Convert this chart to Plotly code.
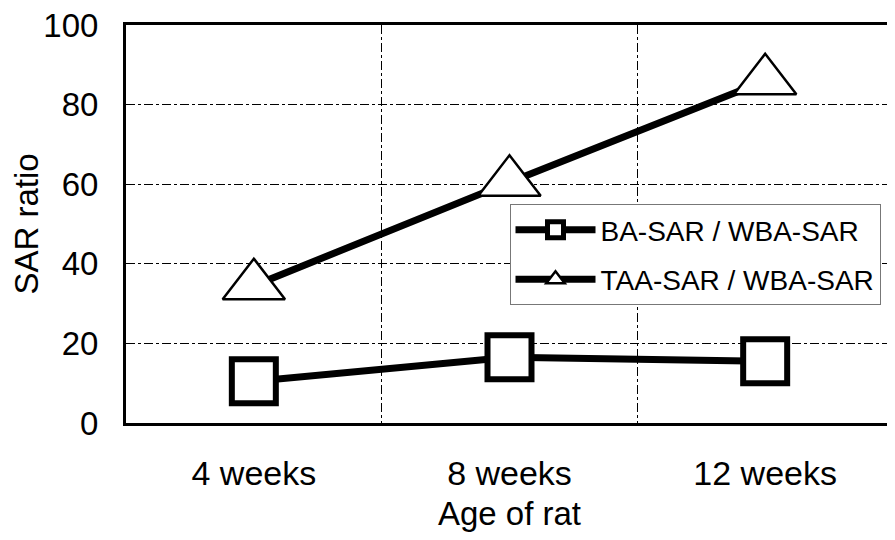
import plotly.graph_objects as go

categories = ["4 weeks", "8 weeks", "12 weeks"]
ba_sar = [10.5, 16.5, 15.5]
taa_sar = [34.5, 60.5, 86]
y_ticks = [0, 20, 40, 60, 80, 100]

xs = list(range(len(categories)))

fig = go.Figure()
fig.add_trace(go.Scatter(
    x=xs, y=ba_sar, name="BA-SAR / WBA-SAR", mode="lines+markers",
    legendgroup="ba",
    line=dict(color="black", width=7),
    marker=dict(symbol="square", size=44, color="white",
                line=dict(color="black", width=6)),
))
fig.add_trace(go.Scatter(
    x=xs, y=taa_sar, name="TAA-SAR / WBA-SAR", mode="lines+markers",
    legendgroup="taa",
    line=dict(color="black", width=7),
    marker=dict(symbol="triangle-up", size=54, color="white",
                line=dict(color="black", width=2.5)),
))

font = "Liberation Sans, Arial, sans-serif"
# page body has an 8px margin, so the figure is drawn 8px in from the window edge
fig.update_layout(
    width=887, height=532,
    margin=dict(l=118, r=2, t=17, b=117),
    paper_bgcolor="white", plot_bgcolor="white",
    font=dict(family=font, color="black", size=33),
    showlegend=True,
    legend=dict(
        x=0.5, y=0.55, xanchor="left", yanchor="top",
        bgcolor="white", bordercolor="#777", borderwidth=1,
        font=dict(size=28, family=font, color="black"),
        itemsizing="trace", itemwidth=80,
        traceorder="grouped", tracegroupgap=10,
    ),
    xaxis=dict(
        range=[-0.5, 2.5], tickvals=xs, ticktext=categories,
        showgrid=False, showline=True, linecolor="black", linewidth=3,
        mirror=True, ticks="", zeroline=False, automargin=False,
        tickfont=dict(size=34), ticklabelstandoff=18,
        ticklabeloverflow="allow",
        title=dict(text="Age of rat", font=dict(size=33), standoff=12),
        minor=dict(tickvals=[0.5, 1.5], showgrid=True, gridcolor="black",
                   gridwidth=1, griddash="dashdot", ticks=""),
    ),
    yaxis=dict(
        range=[0, 100], tickvals=y_ticks, automargin=False,
        showgrid=True, gridcolor="black", gridwidth=1, griddash="dashdot",
        showline=True, linecolor="black", linewidth=3, mirror=True,
        ticks="", zeroline=False, tickfont=dict(size=33), ticklabelstandoff=18,
        ticklabeloverflow="allow",
        title=dict(text="SAR ratio", font=dict(size=33), standoff=10),
    ),
)

fig.write_html("out.html")
